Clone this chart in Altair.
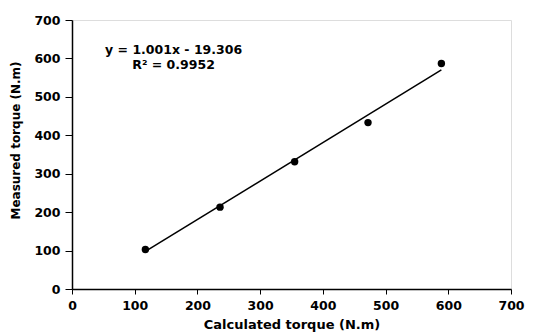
import altair as alt
import pandas as pd

calc = [117, 236, 355, 472, 589]
meas = [103, 213, 331, 433, 587]
line_x = [117, 589]
line_y = [97.8, 570.3]
eq_lines = ["y = 1.001x - 19.306", "R² = 0.9952"]
eq_x = [162, 162]
eq_y = [623, 584]
ticks = [0, 100, 200, 300, 400, 500, 600, 700]

pts = pd.DataFrame({"x": calc, "y": meas})
ln = pd.DataFrame({"x": line_x, "y": line_y})
txt = pd.DataFrame({"x": eq_x, "y": eq_y, "t": eq_lines})

xs = alt.Scale(domain=[0, 700], nice=False)
ys = alt.Scale(domain=[0, 700], nice=False)
FONT = "DejaVu Sans"

common = dict(values=ticks, grid=False, domainColor="black", tickColor="black",
              labelFont=FONT, labelFontSize=12.5, labelFontWeight="bold", labelColor="black",
              titleFont=FONT, titleFontWeight="bold", titleColor="black",
              domainWidth=1.5, tickWidth=1, labelOverlap=False, labelFlush=False, labelBound=False)

xax = alt.Axis(title="Calculated torque (N.m)", tickSize=5, labelPadding=5, titleFontSize=13,
               titleY=35, titleBaseline="middle", **common)
yax = alt.Axis(title="Measured torque (N.m)", tickSize=7, labelPadding=5, titleFontSize=12,
               titleX=-57, titleY=120, titleAngle=-90,
               titleAlign="center", titleBaseline="middle", **common)

X = alt.X("x:Q", scale=xs, axis=xax)
Y = alt.Y("y:Q", scale=ys, axis=yax)

line = alt.Chart(ln).mark_line(color="black", strokeWidth=1.5).encode(x=X, y=Y)
points = alt.Chart(pts).mark_circle(color="black", size=55, opacity=1).encode(x=X, y=Y)
text = alt.Chart(txt).mark_text(font=FONT, fontSize=12.5, fontWeight="bold", color="black",
                                 align="center", baseline="middle").encode(
    x=X, y=Y, text="t:N"
)

chart = alt.layer(line, points, text).properties(
    width=439, height=269,
    autosize=alt.AutoSizeParams(type="none"),
    padding={"left": 64, "top": 12, "right": 14, "bottom": 44},
).configure_view(stroke="black", strokeWidth=1.5).configure(background="white")

chart.save("out.html", embed_options={"renderer": "svg", "actions": False})
